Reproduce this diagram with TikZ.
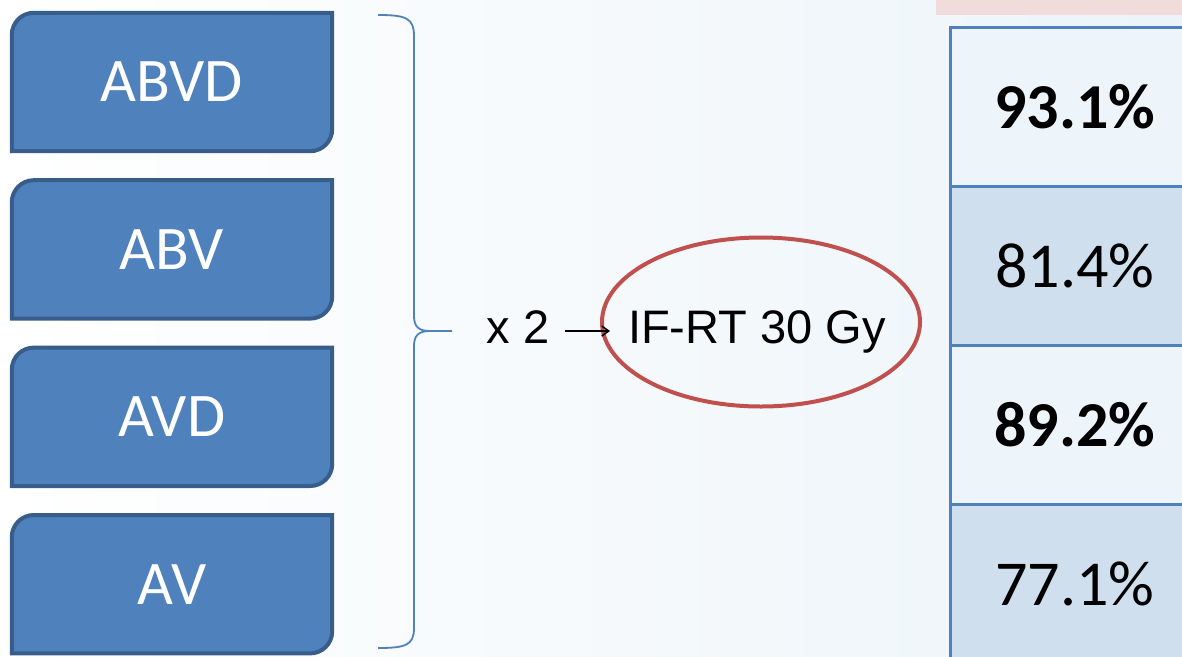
\documentclass[tikz,border=0pt]{standalone}
\usepackage{fontspec}
\setmainfont{Carlito}
\newfontfamily\arialfont{Liberation Sans}
\usetikzlibrary{positioning,shapes.geometric,backgrounds,arrows.meta}
\definecolor{boxblue}{HTML}{4F81BD}
\definecolor{boxedge}{HTML}{385D8A}
\definecolor{ringred}{HTML}{C0504D}
\definecolor{cellpale}{HTML}{EEF5FA}
\definecolor{celldark}{HTML}{D0DFEE}
\definecolor{headpink}{HTML}{F2DCDB}
\definecolor{bgblue}{HTML}{ECF4F9}
\tikzset{>=latex}

\begin{document}
\begin{tikzpicture}[x=1pt, y=-1pt,
    regimen/.style={minimum width=320pt, minimum height=138pt, inner sep=0pt,
      text=white, font=\fontsize{62}{70}\selectfont},
    cell/.style={draw=boxblue, line width=3pt, minimum width=250pt,
      minimum height=159pt, inner sep=0pt, outer sep=0pt,
      font=\fontsize{64}{72}\selectfont},
    ring/.style={ellipse, draw=ringred, line width=4pt, minimum width=318pt,
      minimum height=169pt, inner sep=0pt},
    plain/.style={inner sep=0pt, font=\arialfont\fontsize{47}{56}\selectfont},
    braceline/.style={draw=boxblue, line width=1.8pt}]

  \useasboundingbox (0,0) rectangle (1182,656);

  % regimens on the left
  \node[regimen] (abvd) at (172,82) {ABVD};
  \node[regimen, below=29pt of abvd] (abv) {ABV};
  \node[regimen, below=29pt of abv] (avd) {AVD};
  \node[regimen, below=29pt of avd] (av) {AV};

  % boxes with two rounded corners, behind the labels
  \begin{scope}[on background layer]
    \shade[left color=white, right color=bgblue] (0,0) rectangle (1182,656);
    \foreach \n in {abvd,abv,avd,av}
      \draw[fill=boxblue, draw=boxedge, line width=4pt]
        ([xshift=22pt]\n.north west) -- (\n.north east)
        -- ([yshift=22pt]\n.south east) arc[start angle=0, end angle=-90, radius=22pt]
        -- (\n.south west)
        -- ([yshift=-22pt]\n.north west) arc[start angle=180, end angle=90, radius=22pt]
        -- cycle;
  \end{scope}

  % brace
  \draw[braceline] (378,15) .. controls (406,15) and (414,18) .. (414,36)
    -- (414,316) .. controls (414,326) and (418,331) .. (430,331) -- (452,331);
  \draw[braceline] (430,331) .. controls (418,331) and (414,336) .. (414,346)
    -- (414,628) .. controls (414,645) and (406,648) .. (378,648);

  % two cycles, then radiotherapy
  \node[plain, anchor=base] (times) at (518,343) {x 2};
  \node[ring] (rt) at (761,322) {};
  \node[plain, anchor=base] (rtlabel) at (757,343) {IF-RT 30 Gy};
  \coordinate (tip) at ([yshift=12pt]times.base -| rt.west);
  \draw[line width=1.5pt, -{Straight Barb[length=7pt,width=10pt]}]
    ([xshift=15pt,yshift=12pt]times.base east) -- ([xshift=10pt]tip);

  % results column
  \fill[headpink] (936,0) rectangle (1182,15);
  \node[cell, fill=cellpale] (r1) at (1075,107) {\textbf{93.1\%}};
  \node[cell, fill=celldark, below=0pt of r1] (r2) {81.4\%};
  \node[cell, fill=cellpale, below=0pt of r2] (r3) {\textbf{89.2\%}};
  \node[cell, fill=celldark, below=0pt of r3] (r4) {77.1\%};

\end{tikzpicture}
\end{document}
